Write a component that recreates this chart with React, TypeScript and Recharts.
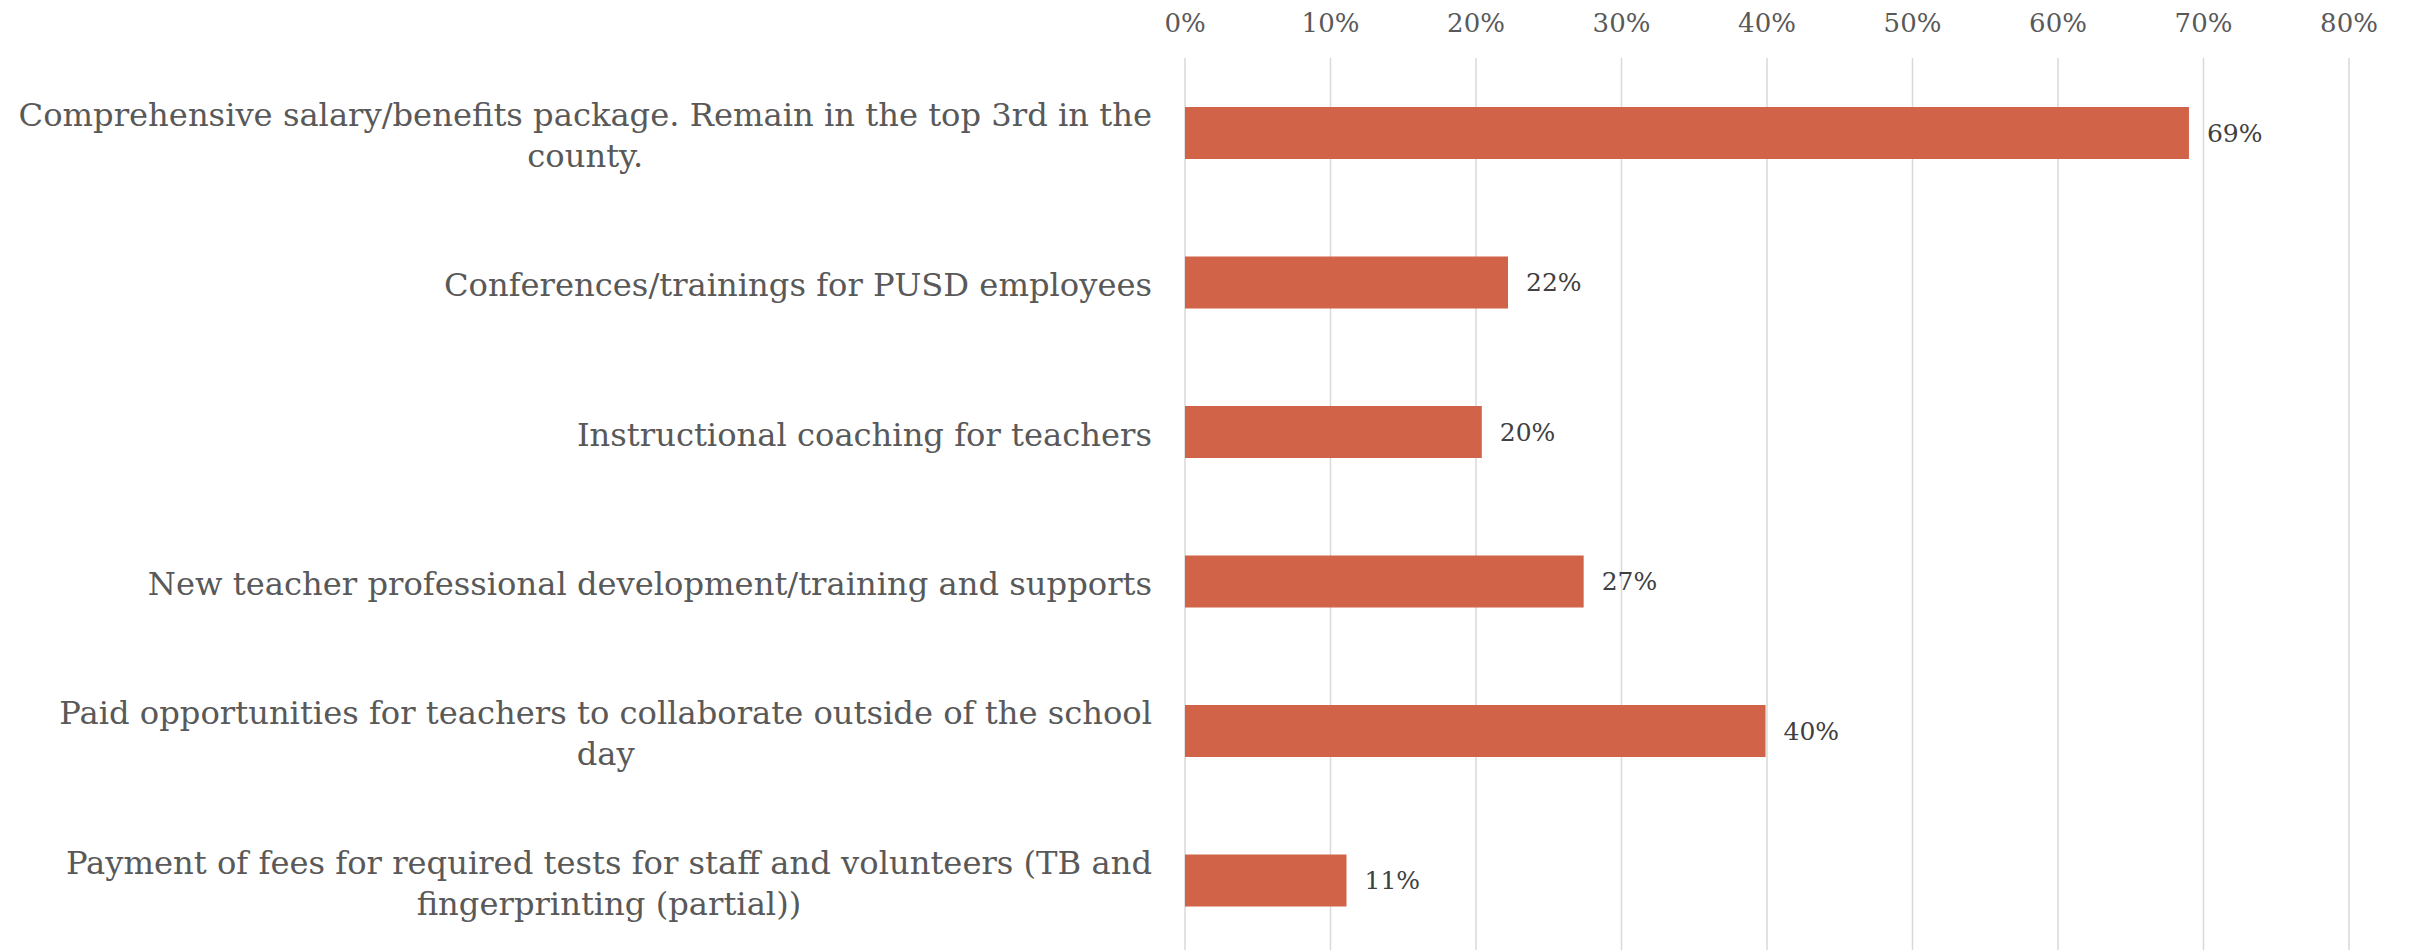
import { BarChart, Bar, XAxis, YAxis, CartesianGrid, LabelList } from 'recharts';

const categories = [
  'Comprehensive salary/benefits package. Remain in the top 3rd in the\ncounty.',
  'Conferences/trainings for PUSD employees',
  'Instructional coaching for teachers',
  'New teacher professional development/training and supports',
  'Paid opportunities for teachers to collaborate outside of the school\nday',
  'Payment of fees for required tests for staff and volunteers (TB and\nfingerprinting (partial))',
];

const shares = [69.0, 22.2, 20.4, 27.4, 39.9, 11.1];

const xTicks = [0, 10, 20, 30, 40, 50, 60, 70, 80];

const data = categories.map((name, i) => ({ name, share: shares[i] }));

const FONT = '"DejaVu Serif", Georgia, serif';
const LABEL_SIZE = 32.2;
const LINE_GAP = 41;

let ctx: CanvasRenderingContext2D | null = null;
const measure = (s: string) => {
  if (!ctx) ctx = document.createElement('canvas').getContext('2d');
  if (!ctx) return s.length * LABEL_SIZE * 0.5;
  ctx.font = `${LABEL_SIZE}px ${FONT}`;
  return ctx.measureText(s).width;
};

const CategoryTick = ({ x, y, payload }: any) => {
  const lines: string[] = String(payload.value).split('\n');
  const blockW = Math.max(...lines.map(measure));
  const right = x - 25;
  const cx = right - blockW / 2;
  const y0 = y + 3 - ((lines.length - 1) * LINE_GAP) / 2;
  return (
    <g>
      {lines.map((ln, i) => (
        <text
          key={i}
          x={lines.length > 1 ? cx : right}
          y={y0 + i * LINE_GAP}
          textAnchor={lines.length > 1 ? 'middle' : 'end'}
          dominantBaseline="central"
          fill="#595959"
          fontSize={LABEL_SIZE}
          fontFamily={FONT}
        >
          {ln}
        </text>
      ))}
    </g>
  );
};

export default function App() {
  return (
    <div style={{ position: 'absolute', left: 0, top: 0, width: 2410, height: 950, overflow: 'hidden', background: '#fff' }}>
      <BarChart
        width={2410}
        height={955}
        data={data}
        layout="vertical"
        margin={{ top: 0, right: 61, bottom: 0, left: 0 }}
        barSize={52}
      >
        <CartesianGrid horizontal={false} stroke="#D9D9D9" strokeWidth={1.5} />
        <XAxis
          type="number"
          orientation="top"
          domain={[0, 80]}
          ticks={xTicks}
          height={58}
          axisLine={false}
          tickLine={false}
          tickFormatter={(v: number) => `${v}%`}
          tick={{ fill: '#595959', fontSize: 26, fontFamily: FONT }}
          tickMargin={20}
        />
        <YAxis
          type="category"
          dataKey="name"
          width={1185}
          axisLine={false}
          tickLine={false}
          tick={<CategoryTick />}
          interval={0}
        />
        <Bar dataKey="share" fill="#D16349" isAnimationActive={false}>
          <LabelList
            dataKey="share"
            position="right"
            offset={18}
            formatter={(v: number) => `${Math.round(v)}%`}
            style={{ fill: '#404040', fontSize: 25, fontFamily: FONT }}
          />
        </Bar>
      </BarChart>
    </div>
  );
}
